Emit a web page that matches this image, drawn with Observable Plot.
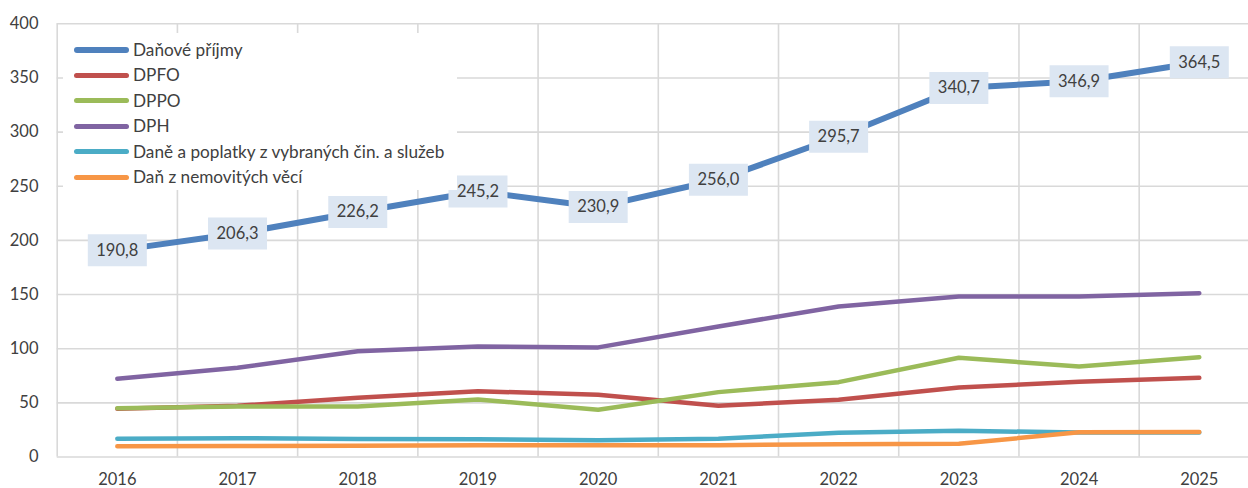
<!DOCTYPE html>
<html>
<head>
<meta charset="utf-8">
<script src="https://cdn.jsdelivr.net/npm/d3@7"></script>
<script src="https://cdn.jsdelivr.net/npm/@observablehq/plot@0.6"></script>
<style>
  html, body { margin: 0; padding: 0; background: #fff; overflow: hidden; }
  #wrap { position: relative; width: 1248px; height: 488px; overflow: hidden; }
  #legend { position: absolute; left: 63px; top: 33px; width: 394px; height: 157px; background: #fff;
            font-family: Lato, "Open Sans", sans-serif; font-size: 17.2px; color: #404040; }
  .row { position: absolute; left: 0; height: 20px; }
  .sw { position: absolute; left: 11px; width: 55px; height: 5px; border-radius: 3px; }
  .lb { position: absolute; left: 70px; top: 0; white-space: nowrap; line-height: 20px; }
</style>
</head>
<body>
<div id="wrap"><div id="chart"></div><div id="legend"></div></div>
<script>
const years = [2016, 2017, 2018, 2019, 2020, 2021, 2022, 2023, 2024, 2025];
const seriesNames = ["Daňové příjmy", "DPFO", "DPPO", "DPH", "Daně a poplatky z vybraných čin. a služeb", "Daň z nemovitých věcí"];
const seriesColors = ["#4F81BD", "#C0504D", "#9BBB59", "#8064A2", "#4BACC6", "#F79646"];
const danovePrijmy = [190.8, 206.3, 226.2, 245.2, 230.9, 256.0, 295.7, 340.7, 346.9, 364.5];
const dpfo = [44.5, 47.3, 54.7, 60.8, 57.4, 47.3, 52.8, 64.2, 69.4, 73.1];
const dppo = [45.1, 46.6, 46.6, 53.1, 43.6, 59.9, 69.1, 91.6, 83.6, 92.2];
const dph = [72.2, 82.4, 97.7, 102.1, 101.2, 120.5, 139.0, 148.3, 148.3, 151.3];
const vybraneCinnosti = [16.8, 17.4, 16.6, 16.5, 15.5, 16.8, 22.4, 24.2, 22.6, 22.6];
const nemovitosti = [10.0, 10.2, 10.4, 10.9, 10.9, 10.9, 11.8, 12.2, 22.8, 23.0];
const yTicks = [0, 50, 100, 150, 200, 250, 300, 350, 400];

const allSeries = [danovePrijmy, dpfo, dppo, dph, vybraneCinnosti, nemovitosti];
const rows = [];
allSeries.forEach((vals, i) => vals.forEach((v, j) => rows.push({series: seriesNames[i], year: years[j], value: v})));
const mainRows = rows.filter(d => d.series === seriesNames[0]);
const bandEdges = years.map(y => y - 0.5);

const labelBox = { draw(ctx) { ctx.rect(-29.5, -16, 59, 32); } };
const fmt = v => v.toFixed(1).replace(".", ",");
const font = "Lato, 'Open Sans', sans-serif";

const chart = Plot.plot({
  width: 1248,
  height: 488,
  marginTop: 23.3,
  marginBottom: 31.5,
  marginLeft: 56.7,
  marginRight: 0,
  style: { fontFamily: font, fontSize: "16.5px", color: "#595959", background: "#fff", overflow: "hidden" },
  x: { domain: [2015.5, 2025.5], range: [56.7, 1258.9] },
  y: { domain: [0, 400], range: [456.5, 23.3] },
  color: { domain: seriesNames, range: seriesColors },
  marks: [
    Plot.ruleY(yTicks, { stroke: "#d9d9d9", strokeWidth: 1.6 }),
    Plot.ruleX(bandEdges, { stroke: "#d9d9d9", strokeWidth: 1.6 }),
    Plot.axisY(yTicks, { tickSize: 0, tickPadding: 18.7, tickFormat: d => String(d), fill: "#404040", label: null, fontSize: 16.5 }),
    Plot.axisX(years, { tickSize: 0, tickPadding: 15.8, tickFormat: d => String(d), fill: "#404040", label: null, fontSize: 16.5 }),
    Plot.line(rows.filter(d => d.series !== seriesNames[0]), { x: "year", y: "value", z: "series", stroke: "series", strokeWidth: 4.5, strokeLinecap: "round", strokeLinejoin: "round", sort: (a, b) => seriesNames.indexOf(a.series) - seriesNames.indexOf(b.series) }),
    Plot.line(mainRows, { x: "year", y: "value", stroke: seriesColors[0], strokeWidth: 6, strokeLinecap: "round", strokeLinejoin: "round" }),
    Plot.dot(mainRows, { x: "year", y: "value", symbol: labelBox, fill: "#DCE6F2", stroke: "none", r: 10 }),
    Plot.text(mainRows, { x: "year", y: "value", text: d => fmt(d.value), fill: "#404040", fontSize: 16.5, fontFamily: font })
  ]
});
document.getElementById("chart").appendChild(chart);

const legend = document.getElementById("legend");
const rowYs = [17, 42.3, 67.5, 93, 118.7, 144];
seriesNames.forEach((name, i) => {
  const r = document.createElement("div");
  r.className = "row";
  r.style.top = (rowYs[i] - 10) + "px";
  r.style.width = "394px";
  const sw = document.createElement("div");
  sw.className = "sw";
  sw.style.background = seriesColors[i];
  sw.style.top = "7.5px";
  if (i === 0) { sw.style.height = "6px"; sw.style.top = "7px"; }
  const lb = document.createElement("div");
  lb.className = "lb";
  lb.textContent = name;
  r.appendChild(sw); r.appendChild(lb);
  legend.appendChild(r);
});
</script>
</body>
</html>
